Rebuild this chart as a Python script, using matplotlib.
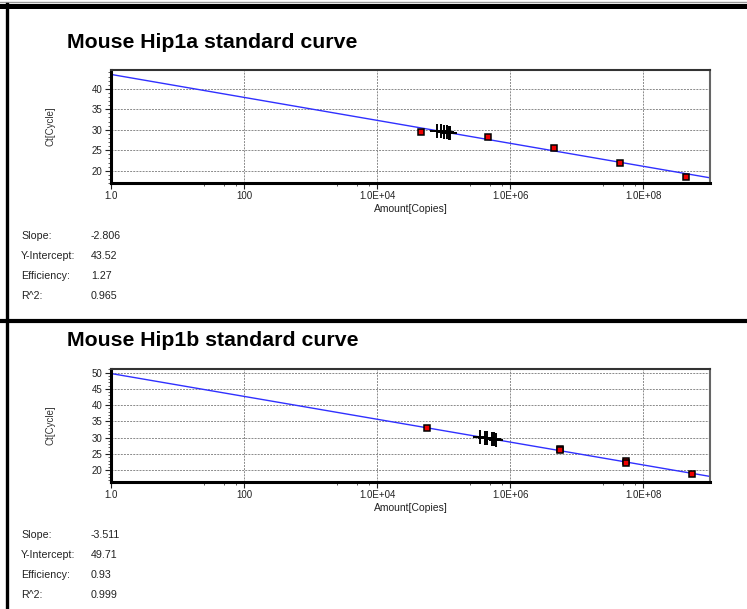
import numpy as np
import matplotlib
matplotlib.use("Agg")
import matplotlib.pyplot as plt
from matplotlib.lines import Line2D
from matplotlib.ticker import FixedLocator, MultipleLocator

plt.rcParams['font.family'] = ['Liberation Sans', 'DejaVu Sans']

# x axis (log amount) ticks shared by both panels
x_ticks = [1, 100, 1e4, 1e6, 1e8]
x_tick_labels = ['1.0', '100', '1.0E+04', '1.0E+06', '1.0E+08']
x_minor = [m * 10 ** e for e in (0, 2, 4, 6, 8) for m in (25, 50, 75)]

# Hip1a standard curve
a_title = 'Mouse Hip1a standard curve'
a_slope, a_intercept, a_eff, a_r2 = -2.806, 43.52, 1.27, 0.965
a_std_amount = [4.5e4, 4.6e5, 4.5e6, 4.5e7, 4.4e8]
a_std_ct = [29.55, 28.3, 25.6, 21.9, 18.4]
a_unk_amount = [7.9e4, 9.2e4, 1.0e5, 1.1e5, 1.19e5, 1.26e5]
a_unk_ct = [29.77, 29.59, 29.48, 29.38, 29.28, 29.21]
a_yticks = [20, 25, 30, 35, 40]
a_ylim = (17.0, 44.6)

# Hip1b standard curve
b_title = 'Mouse Hip1b standard curve'
b_slope, b_intercept, b_eff, b_r2 = -3.511, 49.71, 0.93, 0.999
b_std_amount = [5.6e4, 5.5e6, 5.5e6, 5.4e7, 5.4e7, 5.4e8]
b_std_ct = [33.05, 26.6, 26.2, 22.7, 22.3, 18.8]
b_unk_amount = [3.55e5, 4.2e5, 4.5e5, 5.25e5, 5.6e5, 6.0e5]
b_unk_ct = [30.22, 29.98, 29.87, 29.63, 29.52, 29.42]
b_yticks = [20, 25, 30, 35, 40, 45, 50]
b_ylim = (16.4, 51.1)

W, H = 747, 609
fig = plt.figure(figsize=(W / 100, H / 100), dpi=100)


def px(x, y):
    return x / W, 1 - y / H


def draw_panel(rect_px, title, title_y, slope, intercept, eff, r2,
               std_x, std_y, unk_x, unk_y, yticks, ylim, stats_y):
    left, top, right, bottom = rect_px
    ax = fig.add_axes([left / W, 1 - bottom / H, (right - left) / W, (bottom - top) / H])
    ax.set_xscale('log')
    ax.set_xlim(1, 1e9)
    ax.set_ylim(*ylim)

    xs = np.logspace(0, 9, 50)
    ax.plot(xs, intercept + slope * np.log10(xs), color='#3030ff', lw=1.0, zorder=2)
    ax.plot(unk_x, unk_y, linestyle='none', marker='+', ms=10, mew=1.4,
            color='black', zorder=3)
    ax.plot(std_x, std_y, linestyle='none', marker='s', ms=4.6, mew=1.1,
            mfc='#ee0000', mec='black', zorder=4)

    ax.xaxis.set_major_locator(FixedLocator(x_ticks))
    ax.set_xticklabels(x_tick_labels)
    ax.xaxis.set_minor_locator(FixedLocator(x_minor))
    ax.set_yticks(yticks)
    ax.yaxis.set_minor_locator(MultipleLocator(1))
    ax.tick_params(axis='both', which='major', labelsize=7, length=4,
                   width=0.8, pad=2, colors='#222222')
    ax.tick_params(axis='both', which='minor', length=2.5, width=0.6, colors='#444444')
    ax.grid(True, which='major', color='#8a8a8a', linestyle=(0, (2, 1.2)), lw=0.7)

    for side in ('left', 'bottom'):
        ax.spines[side].set_linewidth(2.2)
        ax.spines[side].set_color('black')
    ax.spines['top'].set_linewidth(1.5)
    ax.spines['top'].set_color('#333333')
    ax.spines['right'].set_linewidth(1.5)
    ax.spines['right'].set_color('#666666')

    ax.set_xlabel('Amount[Copies]', fontsize=7.5, labelpad=2, color='#222222')
    fig.text(*px(50, (top + bottom) / 2), 'Ct[Cycle]', rotation=90, fontsize=7,
             color='#333333', ha='center', va='center')
    fig.text(*px(67, title_y), title, fontsize=15.3, fontweight='bold',
             ha='left', va='center')

    rows = [('Slope:', f'{slope:.3f}'), ('Y-Intercept:', f'{intercept:.2f}'),
            ('Efficiency:', f'{eff:.2f}'), ('R^2:', f'{r2:.3f}')]
    for i, (lab, val) in enumerate(rows):
        y = stats_y + i * 20
        fig.text(*px(21, y), lab, fontsize=7.7, color='#222222', ha='left', va='center')
        fig.text(*px(91, y), val, fontsize=7.7, color='#222222', ha='left', va='center')
    return ax


draw_panel((111, 70, 710, 183), a_title, 42, a_slope, a_intercept, a_eff, a_r2,
           a_std_amount, a_std_ct, a_unk_amount, a_unk_ct, a_yticks, a_ylim, 236)
draw_panel((111, 369, 710, 482), b_title, 340, b_slope, b_intercept, b_eff, b_r2,
           b_std_amount, b_std_ct, b_unk_amount, b_unk_ct, b_yticks, b_ylim, 535)

# report frame: top rule, left rule and panel separator
fig.add_artist(Line2D([0, 1], [1 - 1.5 / H] * 2, color='#999999', lw=1.0))
fig.add_artist(Line2D([0, 1], [1 - 5.5 / H] * 2, color='black', lw=3.6))
fig.add_artist(Line2D([0, 1], [1 - 321.3 / H] * 2, color='black', lw=3.0))
fig.add_artist(Line2D([6.5 / W] * 2, [0, 1 - 4 / H], color='black', lw=2.4))

fig.savefig('out.png', dpi=100)
